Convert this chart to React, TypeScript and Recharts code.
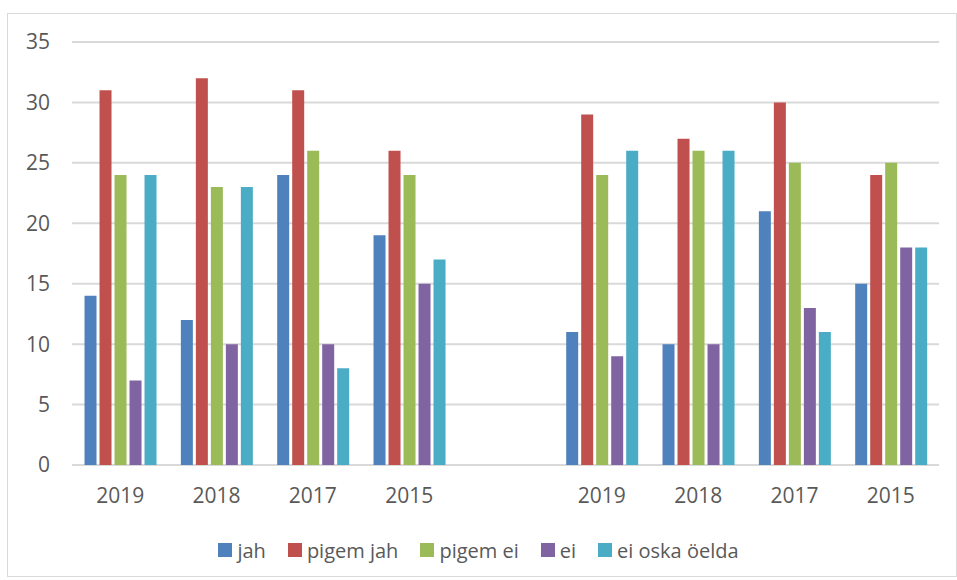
import { BarChart, Bar, XAxis, YAxis, CartesianGrid, Legend } from "recharts";

// Two survey blocks of four years, separated by an empty slot
const years = ["2019", "2018", "2017", "2015", "", "2019", "2018", "2017", "2015"];

const jah = [14, 12, 24, 19, null, 11, 10, 21, 15];
const pigemJah = [31, 32, 31, 26, null, 29, 27, 30, 24];
const pigemEi = [24, 23, 26, 24, null, 24, 26, 25, 25];
const ei = [7, 10, 10, 15, null, 9, 10, 13, 18];
const eiOska = [24, 23, 8, 17, null, 26, 26, 11, 18];

const yTicks = [0, 5, 10, 15, 20, 25, 30, 35];

const series = [
  { key: "jah", name: "jah", color: "#4F81BD", values: jah },
  { key: "pigemJah", name: "pigem jah", color: "#C0504D", values: pigemJah },
  { key: "pigemEi", name: "pigem ei", color: "#9BBB59", values: pigemEi },
  { key: "ei", name: "ei", color: "#8064A2", values: ei },
  { key: "eiOska", name: "ei oska öelda", color: "#4BACC6", values: eiOska },
];

const data = years.map((year, i) => {
  const row: Record<string, any> = { year };
  series.forEach((s) => (row[s.key] = s.values[i]));
  return row;
});

const textColor = "#595959";
const font = "'Open Sans', 'Liberation Sans', sans-serif";

function LegendBox() {
  return (
    <div
      style={{
        display: "flex",
        justifyContent: "center",
        alignItems: "center",
        gap: 22,
        height: 30,
        paddingLeft: 10,
        fontFamily: font,
        fontSize: 20,
        color: textColor,
      }}
    >
      {series.map((s) => (
        <span key={s.key} style={{ display: "inline-flex", alignItems: "center", gap: 5 }}>
          <span style={{ display: "inline-block", width: 14, height: 14, background: s.color }} />
          {s.name}
        </span>
      ))}
    </div>
  );
}

export default function App() {
  return (
    <div
      style={{
        position: "absolute",
        left: 7,
        top: 13,
        width: 950,
        height: 564,
        border: "1px solid #d9d9d9",
        boxSizing: "border-box",
        background: "#fff",
      }}
    >
      <BarChart
        width={948}
        height={562}
        data={data}
        margin={{ top: 28, right: 17, left: 0, bottom: 11 }}
        barCategoryGap="13%"
        barGap={3}
      >
        <CartesianGrid vertical={false} stroke="#d9d9d9" strokeWidth={2} />
        <XAxis
          dataKey="year"
          axisLine={false}
          tickLine={false}
          tickSize={0}
          tickMargin={23}
          height={70}
          interval={0}
          tick={{ fill: textColor, fontSize: 21, fontFamily: font }}
        />
        <YAxis
          width={64}
          domain={[0, 35]}
          ticks={yTicks}
          axisLine={false}
          tickLine={false}
          tickSize={0}
          tickMargin={22}
          tick={{ fill: textColor, fontSize: 21, fontFamily: font }}
        />
        <Legend verticalAlign="bottom" content={() => <LegendBox />} wrapperStyle={{ height: 30 }} />
        {series.map((s) => (
          <Bar key={s.key} dataKey={s.key} name={s.name} fill={s.color} isAnimationActive={false} />
        ))}
      </BarChart>
    </div>
  );
}
